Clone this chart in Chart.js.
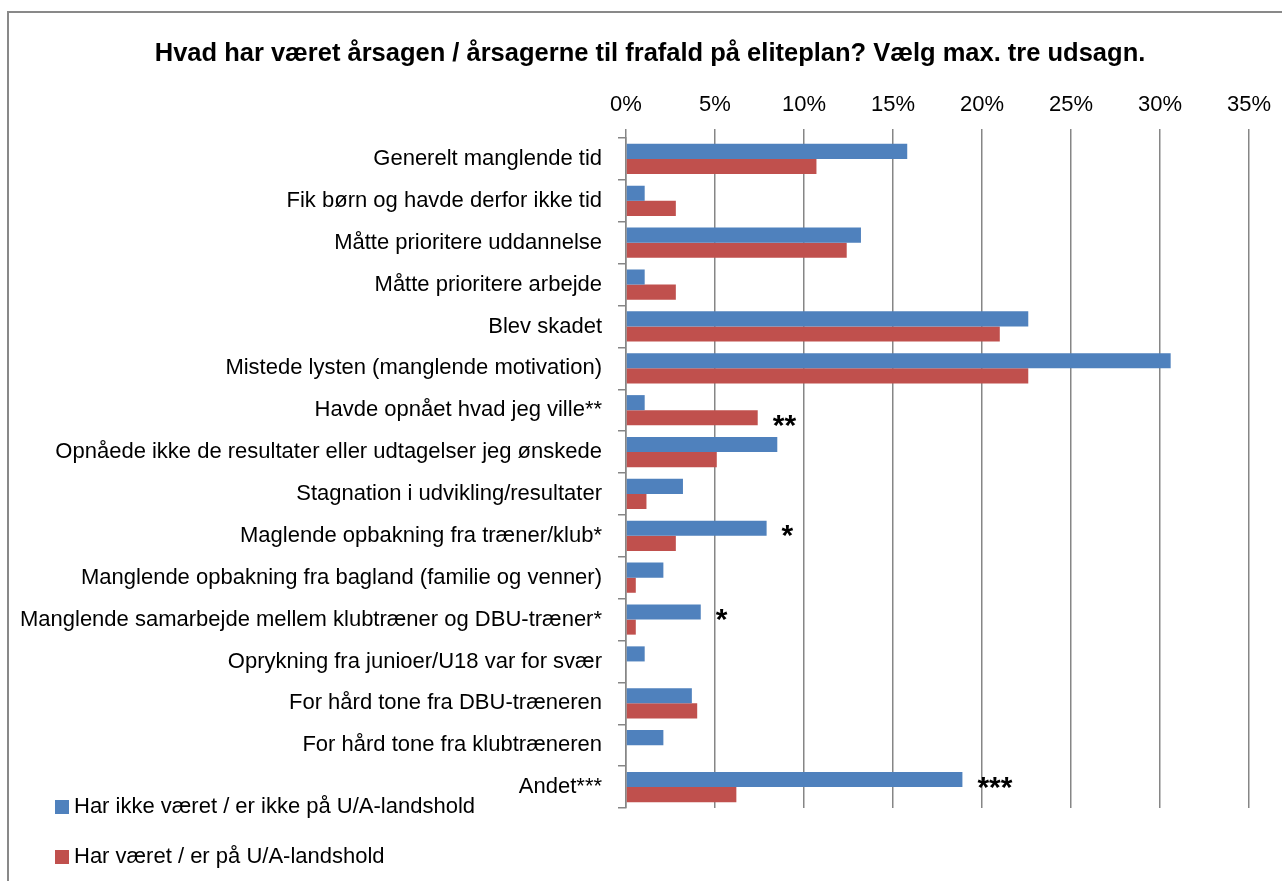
<!DOCTYPE html>
<html>
<head>
<meta charset="utf-8">
<script src="https://cdn.jsdelivr.net/npm/chart.js@4.4.1/dist/chart.umd.min.js"></script>
<style>
  body { margin: 0; background: #fff; overflow: hidden; }
  .frame { position: absolute; left: 7px; top: 11px; width: 1400px; height: 1000px;
           border-left: 2px solid #898989; border-top: 2px solid #898989; }
  canvas { position: absolute; left: 0; top: 0; }
  .legend { position: absolute; left: 55px; font: 22px "Liberation Sans", Arial, sans-serif; color: #000; }
  .legend div { position: absolute; white-space: nowrap; height: 26px; line-height: 26px; }
  .legend span { display: inline-block; width: 14px; height: 14px; margin-right: 5px; vertical-align: -1px; }
</style>
</head>
<body>
<div class="frame"></div>
<canvas id="chart" width="1282" height="881"></canvas>
<div class="legend" id="legend"></div>
<script>
const title = 'Hvad har været årsagen / årsagerne til frafald på eliteplan? Vælg max. tre udsagn.';

const categories = [
  'Generelt manglende tid',
  'Fik børn og havde derfor ikke tid',
  'Måtte prioritere uddannelse',
  'Måtte prioritere arbejde',
  'Blev skadet',
  'Mistede lysten (manglende motivation)',
  'Havde opnået hvad jeg ville**',
  'Opnåede ikke de resultater eller udtagelser jeg ønskede',
  'Stagnation i udvikling/resultater',
  'Maglende opbakning fra træner/klub*',
  'Manglende opbakning fra bagland (familie og venner)',
  'Manglende samarbejde mellem klubtræner og DBU-træner*',
  'Oprykning fra junioer/U18 var for svær',
  'For hård tone fra DBU-træneren',
  'For hård tone fra klubtræneren',
  'Andet***'
];

const seriesNames = ['Har ikke været / er ikke på U/A-landshold', 'Har været / er på U/A-landshold'];
const notOnTeam = [15.8, 1.05, 13.2, 1.05, 22.6, 30.6, 1.05, 8.5, 3.2, 7.9, 2.1, 4.2, 1.05, 3.7, 2.1, 18.9];
const onTeam = [10.7, 2.8, 12.4, 2.8, 21.0, 22.6, 7.4, 5.1, 1.15, 2.8, 0.55, 0.55, 0, 4.0, 0, 6.2];
const colors = ['#4F81BD', '#C0504D'];

const xMax = 35;
const xStep = 5;

// significance marks next to bars: [category index, series index, text]
const marks = [
  [6, 1, '**'],
  [9, 0, '*'],
  [11, 0, '*'],
  [15, 0, '***']
];

const font = '"Liberation Sans", Arial, sans-serif';
const grey = '#868686';

const markPlugin = {
  id: 'marks',
  afterLayout(chart) {
    // let the long category labels use the space left of the padding
    chart.scales.y.left = 0;
  },
  afterDatasetsDraw(chart) {
    const ctx = chart.ctx;
    ctx.save();
    ctx.font = 'bold 30px ' + font;
    ctx.fillStyle = '#000';
    ctx.textAlign = 'left';
    ctx.textBaseline = 'alphabetic';
    marks.forEach(([i, s, txt]) => {
      const el = chart.getDatasetMeta(s).data[i];
      ctx.fillText(txt, el.x + 15, el.y + 17);
    });
    ctx.restore();
  }
};

new Chart(document.getElementById('chart'), {
  type: 'bar',
  data: {
    labels: categories,
    datasets: [
      { label: seriesNames[0], data: notOnTeam, backgroundColor: colors[0], borderWidth: 0 },
      { label: seriesNames[1], data: onTeam, backgroundColor: colors[1], borderWidth: 0 }
    ]
  },
  options: {
    indexAxis: 'y',
    responsive: false,
    animation: false,
    devicePixelRatio: 1,
    categoryPercentage: 0.72,
    barPercentage: 1,
    layout: { padding: { left: 44, right: 26, top: 0, bottom: 73 } },
    plugins: {
      legend: { display: false },
      tooltip: { enabled: false },
      title: {
        display: true,
        text: title,
        color: '#000',
        font: { family: font, size: 25.5, weight: 'bold' },
        padding: { top: 39, bottom: 7 }
      }
    },
    scales: {
      x: {
        position: 'top',
        min: 0,
        max: xMax,
        ticks: {
          stepSize: xStep,
          color: '#000',
          font: { family: font, size: 22 },
          padding: 11,
          callback: v => v + '%'
        },
        grid: { color: grey, lineWidth: 1.5, tickLength: 9, tickColor: grey },
        border: { display: false },
        afterFit: s => { s.height = 61.4; }
      },
      y: {
        ticks: {
          color: '#000',
          font: { family: font, size: 22 },
          padding: 16,
          autoSkip: false
        },
        grid: { drawOnChartArea: false, tickLength: 8, color: grey, lineWidth: 1.5 },
        border: { display: true, color: grey, width: 1.5 },
        afterFit: s => { s.width = 582; }
      }
    }
  },
  plugins: [markPlugin]
});

// legend, built from the series names and colours
const legend = document.getElementById('legend');
const legendTops = [793, 843];
seriesNames.forEach((name, i) => {
  const row = document.createElement('div');
  row.style.top = legendTops[i] + 'px';
  row.innerHTML = '<span style="background:' + colors[i] + '"></span>' + name;
  legend.appendChild(row);
});
</script>
</body>
</html>
